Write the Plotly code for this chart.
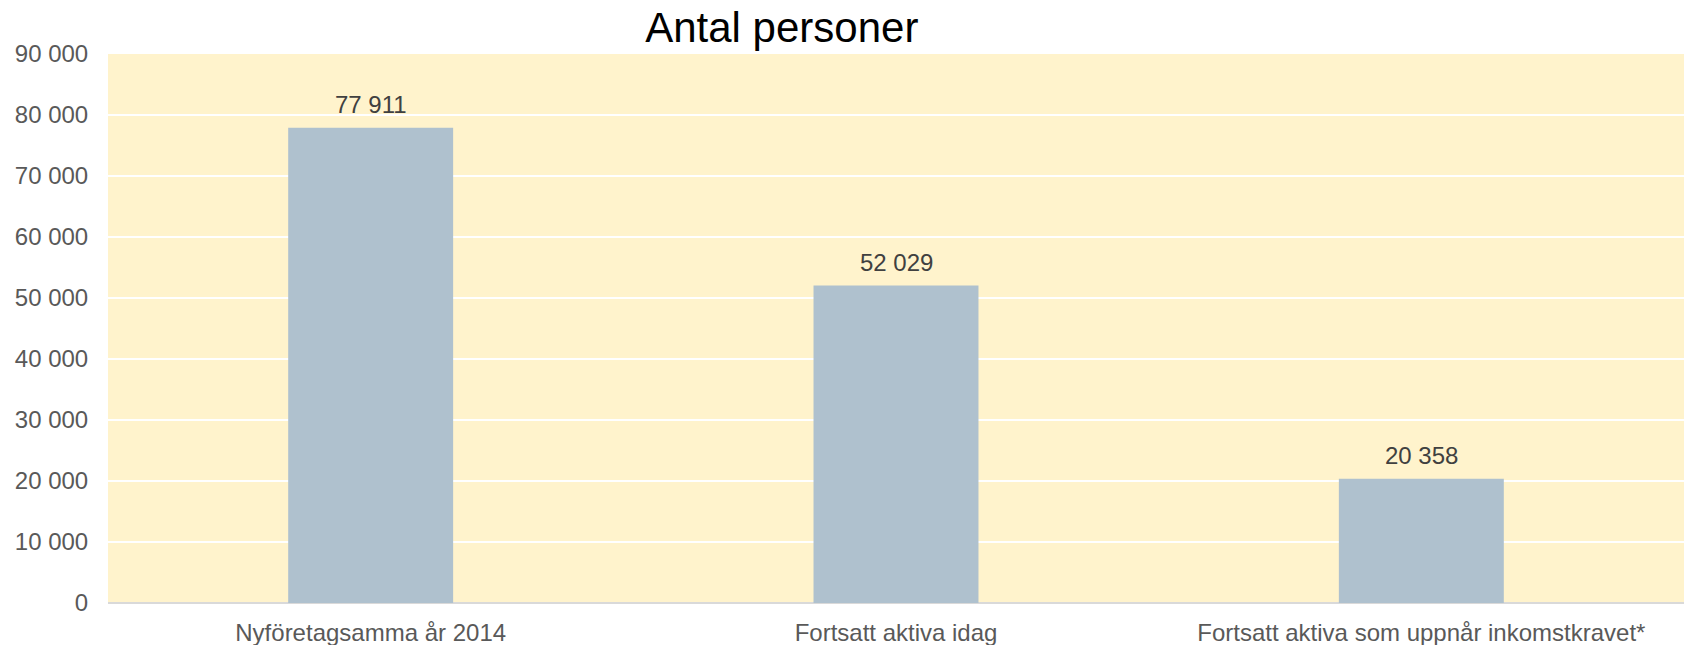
import plotly.graph_objects as go

categories = ["Nyföretagsamma år 2014", "Fortsatt aktiva idag", "Fortsatt aktiva som uppnår inkomstkravet*"]
values = [77911, 52029, 20358]
value_labels = ["77 911", "52 029", "20 358"]
y_ticks = [0, 10000, 20000, 30000, 40000, 50000, 60000, 70000, 80000, 90000]
y_tick_labels = ["0", "10 000", "20 000", "30 000", "40 000", "50 000", "60 000", "70 000", "80 000", "90 000"]
title_text = "Antal personer"

FONT = "Liberation Sans, Arial, sans-serif"

fig = go.Figure()
fig.add_trace(go.Bar(
    x=categories,
    y=values,
    marker=dict(color="#AFC1CE", line=dict(width=0)),
    hoverinfo="skip",
))

for c, v, t in zip(categories, values, value_labels):
    fig.add_annotation(
        x=c, y=v, text=t, showarrow=False,
        xref="x", yref="y", yanchor="bottom", yshift=8,
        font=dict(family=FONT, size=24, color="#404040"),
    )

fig.update_layout(
    width=1684, height=645,
    margin=dict(l=108, r=0, t=54, b=42, pad=0),
    paper_bgcolor="white",
    plot_bgcolor="#FFF3CC",
    bargap=0.686,
    showlegend=False,
    font=dict(family=FONT, size=24, color="#595959"),
    title=dict(
        text=title_text,
        x=781.8 / 1684, xref="container", xanchor="center",
        y=1 - 27 / 645, yref="container", yanchor="middle",
        font=dict(family=FONT, size=42, color="#000000"),
    ),
)

fig.update_xaxes(
    showgrid=False, zeroline=False, showline=False,
    ticks="outside", ticklen=8, tickcolor="rgba(0,0,0,0)",
    tickfont=dict(family=FONT, size=24, color="#595959"),
)
fig.update_yaxes(
    range=[0, 90000],
    tickvals=y_ticks, ticktext=y_tick_labels,
    showgrid=True, gridcolor="#FFFFFF", gridwidth=2,
    zeroline=True, zerolinecolor="#D9D9D9", zerolinewidth=2,
    showline=False,
    ticks="outside", ticklen=14, tickcolor="rgba(0,0,0,0)",
    tickfont=dict(family=FONT, size=24, color="#595959"),
)

fig.write_html(
    "out.html",
    config={"displayModeBar": False},
    post_script="document.body.style.margin='0';document.body.style.overflow='hidden';",
)
